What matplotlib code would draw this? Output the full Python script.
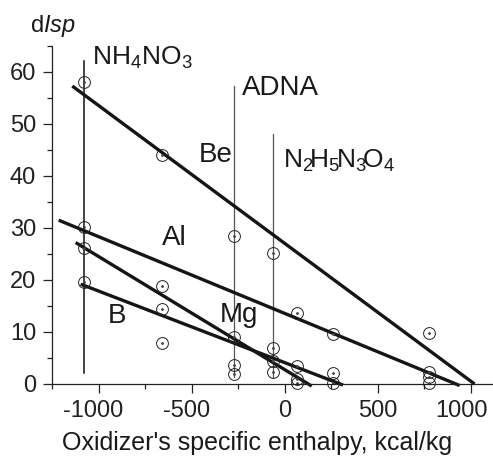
import matplotlib
matplotlib.use("Agg")
import matplotlib.pyplot as plt
from matplotlib.ticker import MultipleLocator
from matplotlib.transforms import ScaledTranslation

plt.rcParams["font.family"] = ["Liberation Sans", "DejaVu Sans"]
plt.rcParams["mathtext.fontset"] = "custom"
plt.rcParams["mathtext.rm"] = "Liberation Sans"
plt.rcParams["mathtext.it"] = "Liberation Sans:italic"
plt.rcParams["mathtext.default"] = "regular"
plt.rcParams["axes.unicode_minus"] = False

# Puntos experimentales (entalpía, dIsp)
pts_x = [-1080, -1080, -1080, -1080,
         -660, -660, -660, -660,
         -272, -272, -272, -272,
         -62, -62, -62, -62,
         65, 65, 65, 65,
         260, 260, 260,
         775, 775, 775, 775]
pts_y = [58, 30.2, 26.1, 19.7,
         44, 18.8, 14.4, 7.9,
         28.5, 9, 3.7, 1.9,
         25.2, 6.9, 4.4, 2.4,
         13.6, 3.5, 0.9, 0.2,
         9.6, 2.2, 0.2,
         9.9, 2.4, 1.3, 0.1]

# Rectas de ajuste por metal: (x inicio, x fin), (y inicio, y fin)
fit_lines = {
    "Be": ([-1141, 1021], [57.3, 0.0]),
    "Al": ([-1214, 941], [31.5, -0.3]),
    "Mg": ([-1123, 146], [27.2, -0.4]),
    "B": ([-1096, 314], [19.2, -0.2]),
}

# Líneas verticales de los oxidantes: x, y inferior, y superior
oxid_x = [-1080, -272, -62]
oxid_ymin = [2.1, 1.3, 1.3]
oxid_ymax = [62.1, 57.3, 48.1]

# Etiquetas: texto, x, y (línea base), tamaño
labels = [
    ("$NH_4NO_3$", -1037, 61.3, 19),
    ("Be", -464, 42.7, 20),
    ("ADNA", -229, 55.6, 20),
    ("$N_2\\!H_5\\!N_3\\!O_4$", -8, 41.5, 19),
    ("Al", -657, 26.7, 20),
    ("B", -952, 11.7, 20),
    ("Mg", -346, 11.9, 20),
]

xticks = [-1000, -500, 0, 500, 1000]
yticks = [0, 10, 20, 30, 40, 50, 60]

fig = plt.figure(figsize=(4.93, 4.59), dpi=100)
ax = fig.add_axes([52 / 493, 1 - 384 / 459, 441 / 493, 338 / 459])

for i, x in enumerate(oxid_x):
    col = "#111111" if i == 0 else "#555555"
    lw = 1.1 if i == 0 else 0.9
    ax.plot([x, x], [oxid_ymin[i], oxid_ymax[i]], color=col, linewidth=lw)

for name, (lx, ly) in fit_lines.items():
    ax.plot(lx, ly, color="#151515", linewidth=2.4, solid_capstyle="butt", clip_on=False)

ax.plot(pts_x, pts_y, linestyle="none", marker="o", ms=8.5, mfc="none",
        mec="#222222", mew=0.7, clip_on=False)
ax.plot(pts_x, pts_y, linestyle="none", marker="o", ms=1.0, color="#444444", clip_on=False)

for txt, x, y, fs in labels:
    ax.text(x, y, txt, fontsize=fs, va="baseline", ha="left", color="#1a1a1a")

ax.set_xlim(-1250, 1120)
ax.set_ylim(0, 65)
ax.xaxis.set_minor_locator(MultipleLocator(250))
ax.yaxis.set_minor_locator(MultipleLocator(5))
ax.set_xticks(xticks)
ax.set_yticks(yticks)
ax.tick_params(which="major", length=6.5, width=0.9, labelsize=17, colors="#222222", pad=5)
ax.tick_params(which="minor", length=3.5, width=0.9, colors="#222222")
ax.spines["top"].set_visible(False)
ax.spines["right"].set_visible(False)
for s in ("left", "bottom"):
    ax.spines[s].set_linewidth(0.9)
    ax.spines[s].set_color("#222222")

# Centrar los dígitos (no el signo) y meter "1000" dentro de la imagen
for val, lab in zip(xticks, ax.get_xticklabels()):
    dx = 0
    if val < 0:
        dx = -5
    elif val == 1000:
        dx = -9
    if dx:
        lab.set_transform(lab.get_transform() + ScaledTranslation(dx / 100, 0, fig.dpi_scale_trans))

ax.set_xlabel("Oxidizer's specific enthalpy, kcal/kg", fontsize=18, color="#1a1a1a")
ax.xaxis.set_label_coords(205 / 441, -66 / 338)
ax.xaxis.label.set_va("baseline")

fig.text(30 / 493, 1 - 32 / 459, "d$\\it{Isp}$", fontsize=17, va="baseline", ha="left",
         color="#1a1a1a")

fig.savefig("out.png", dpi=100)
